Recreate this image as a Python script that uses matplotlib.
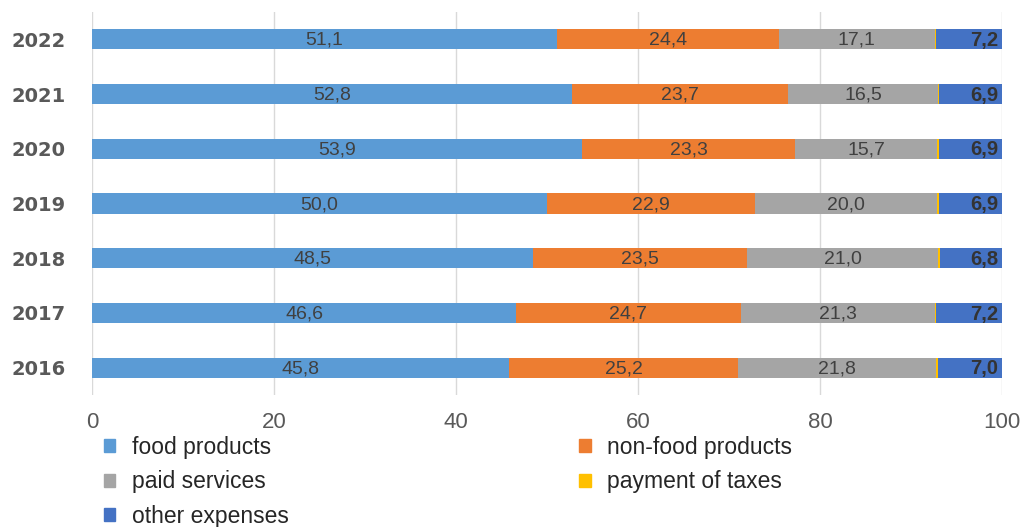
import numpy as np
import matplotlib
matplotlib.use('Agg')
import matplotlib.pyplot as plt
from matplotlib.patches import Patch

plt.rcParams['font.family'] = ['Liberation Sans Narrow', 'Liberation Sans', 'DejaVu Sans']

# data (bottom to top)
years = ['2016', '2017', '2018', '2019', '2020', '2021', '2022']
food = [45.8, 46.6, 48.5, 50.0, 53.9, 52.8, 51.1]
nonfood = [25.2, 24.7, 23.5, 22.9, 23.3, 23.7, 24.4]
services = [21.8, 21.3, 21.0, 20.0, 15.7, 16.5, 17.1]
taxes = [0.2, 0.2, 0.2, 0.2, 0.2, 0.1, 0.2]
other = [7.0, 7.2, 6.8, 6.9, 6.9, 6.9, 7.2]

series = [
    ('food products', food, '#5B9BD5'),
    ('non-food products', nonfood, '#ED7D31'),
    ('paid services', services, '#A5A5A5'),
    ('payment of taxes', taxes, '#FFC000'),
    ('other expenses', other, '#4472C4'),
]

fig = plt.figure(figsize=(10.24, 5.27), dpi=100)
ax = fig.add_axes([92 / 1024, 1 - 395 / 527, 910 / 1024, 383 / 527])

y = np.arange(len(years))
left = np.zeros(len(years))
bars = {}
for name, vals, col in series:
    vals = np.array(vals)
    bars[name] = ax.barh(y, vals, left=left, height=0.37, color=col, zorder=3)
    left = left + vals

def fmt(v):
    return f'{v:.1f}'.replace('.', ',')

# labels inside segments
for name, vals in [('food products', food), ('non-food products', nonfood), ('paid services', services)]:
    for rect, v in zip(bars[name], vals):
        cx = rect.get_x() + rect.get_width() / 2
        ax.text(cx, rect.get_y() + rect.get_height() / 2 - 0.02, fmt(v), ha='center', va='center',
                fontsize=14, color='#404040', zorder=4)
for rect, v in zip(bars['other expenses'], other):
    ax.text(99.6, rect.get_y() + rect.get_height() / 2 - 0.02, fmt(v), ha='right', va='center',
            fontsize=14.5, color='#333333', fontweight='bold', zorder=4)

ax.set_xlim(0, 100)
ax.set_ylim(-0.5, 6.5)
ax.set_xticks([0, 20, 40, 60, 80, 100])
ax.set_yticks(y)
ax.set_yticklabels(years, fontsize=14, fontweight='bold', color='#595959',
                   family=['DejaVu Sans'])
ax.tick_params(axis='x', length=0, pad=12, labelsize=16, labelcolor='#595959')
ax.tick_params(axis='y', length=0, pad=19)
ax.xaxis.grid(True, color='#D9D9D9', linewidth=1, zorder=0)
for s in ax.spines.values():
    s.set_visible(False)

# legend: column-wise fill -> food, paid, other | non-food, taxes
order = ['food products', 'paid services', 'other expenses', 'non-food products', 'payment of taxes']
cols = {n: c for n, _, c in series}
handles = [Patch(color=cols[n], label=n) for n in order]
fig.legend(handles=handles, loc='upper left', bbox_to_anchor=(104 / 1024, 1 - 436 / 527),
           ncol=2, frameon=False, fontsize=16.5, handlelength=0.5, handleheight=0.5,
           handletextpad=0.7, columnspacing=12.7, labelspacing=0.5, labelcolor='#262626',
           borderaxespad=0, borderpad=0)

fig.savefig('out.png', dpi=100)
